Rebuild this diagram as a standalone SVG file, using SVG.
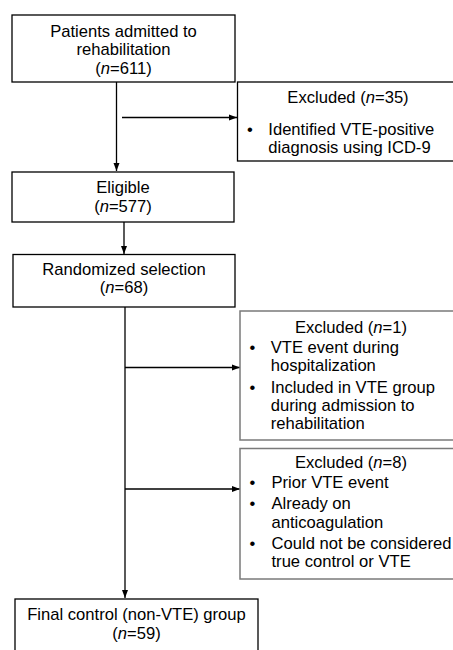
<svg xmlns="http://www.w3.org/2000/svg" width="453" height="650" viewBox="0 0 453 650">
<style>
  text { font-family: "Liberation Sans", Arial, sans-serif; font-size: 16.6px; fill: #000; }
  .c { text-anchor: middle; }
  .box { fill: #fff; stroke: #000; stroke-width: 1.3; }
  .gbox { fill: #fff; stroke: #7a7a7a; stroke-width: 1.5; }
  .ln { stroke: #000; stroke-width: 1.3; fill: none; }
</style>
<defs>
  <marker id="arr" markerUnits="userSpaceOnUse" markerWidth="8" markerHeight="8" viewBox="0 0 8 8" refX="8" refY="4" orient="auto">
    <path d="M0,1 L8,4 L0,7 Z" fill="#000"/>
  </marker>
</defs>
<rect width="453" height="650" fill="#fff"/>
<g id="connectors">
  <line class="ln" x1="116.5" y1="82" x2="116.5" y2="171" marker-end="url(#arr)"/>
  <line class="ln" x1="122" y1="117.5" x2="237" y2="117.5" marker-end="url(#arr)"/>
  <line class="ln" x1="124" y1="222" x2="124" y2="254" marker-end="url(#arr)"/>
  <line class="ln" x1="125" y1="307" x2="125" y2="598" marker-end="url(#arr)"/>
  <line class="ln" x1="125" y1="367.5" x2="240" y2="367.5" marker-end="url(#arr)"/>
  <line class="ln" x1="125" y1="489" x2="240" y2="489" marker-end="url(#arr)"/>
</g>
<g id="admitted">
  <rect class="box" x="12" y="15" width="223" height="67"/>
  <text class="c" x="123.5" y="36.5">Patients admitted to</text>
  <text class="c" x="123.5" y="55.2">rehabilitation</text>
  <text class="c" x="123.5" y="74">(<tspan font-style="italic">n</tspan>=611)</text>
</g>
<g id="excluded35">
  <rect class="box" x="237.5" y="82" width="230" height="79"/>
  <text class="c" x="348" y="103.3">Excluded (<tspan font-style="italic">n</tspan>=35)</text>
  <text x="247" y="135">•</text>
  <text x="268.3" y="135">Identified VTE-positive</text>
  <text x="268.3" y="153">diagnosis using ICD-9</text>
</g>
<g id="eligible">
  <rect class="box" x="12" y="172" width="222" height="50"/>
  <text class="c" x="123" y="193.3">Eligible</text>
  <text class="c" x="123" y="211.7">(<tspan font-style="italic">n</tspan>=577)</text>
</g>
<g id="randomized">
  <rect class="box" x="13" y="254.5" width="222" height="52.5"/>
  <text class="c" x="124" y="275">Randomized selection</text>
  <text class="c" x="124" y="293.3">(<tspan font-style="italic">n</tspan>=68)</text>
</g>
<g id="excluded1">
  <rect class="gbox" x="240" y="311" width="230" height="129"/>
  <text class="c" x="351" y="333">Excluded (<tspan font-style="italic">n</tspan>=1)</text>
  <text x="249.5" y="353.3">•</text>
  <text x="270.7" y="353.3">VTE event during</text>
  <text x="270.7" y="370.7">hospitalization</text>
  <text x="249.5" y="392.7">•</text>
  <text x="270.7" y="392.7">Included in VTE group</text>
  <text x="270.7" y="411">during admission to</text>
  <text x="270.7" y="429.3">rehabilitation</text>
</g>
<g id="excluded8">
  <rect class="gbox" x="240" y="448.5" width="230" height="130.5"/>
  <text class="c" x="351" y="468.3">Excluded (<tspan font-style="italic">n</tspan>=8)</text>
  <text x="249.5" y="488.3">•</text>
  <text x="271.5" y="488.3">Prior VTE event</text>
  <text x="249.5" y="509">•</text>
  <text x="271.5" y="509">Already on</text>
  <text x="271.5" y="527.7">anticoagulation</text>
  <text x="249.5" y="549.3">•</text>
  <text x="271.5" y="549.3">Could not be considered</text>
  <text x="271.5" y="567.3">true control or VTE</text>
</g>
<g id="final">
  <rect class="box" x="15" y="599" width="243" height="70" stroke="#333"/>
  <text class="c" x="136.5" y="620">Final control (non-VTE) group</text>
  <text class="c" x="136.5" y="638.5">(<tspan font-style="italic">n</tspan>=59)</text>
</g>
</svg>
